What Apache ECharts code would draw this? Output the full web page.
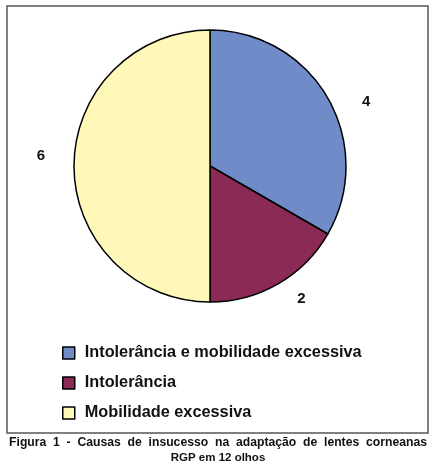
<!DOCTYPE html>
<html>
<head>
<meta charset="utf-8">
<script src="https://cdn.jsdelivr.net/npm/echarts@6/dist/echarts.min.js"></script>
<style>
  html, body { margin: 0; padding: 0; background: #ffffff; }
  #chart { width: 436px; height: 469px; }
</style>
</head>
<body>
<div id="chart"></div>
<script>
// causas de insucesso
const categories = ["Intolerância e mobilidade excessiva", "Intolerância", "Mobilidade excessiva"];
const counts = [4, 2, 6];
const colors = ["#6f8bc8", "#8b2a55", "#fff8b8"];
// ajuste fino da posição dos números
const labelOffsets = [[8, 21], [6, -15], [2, -10]];

const pieData = categories.map((name, i) => ({
  name: name,
  value: counts[i],
  itemStyle: { color: colors[i] }
}));

const chart = echarts.init(document.getElementById("chart"));
chart.setOption({
  animation: false,
  graphic: [
    {
      type: "rect",
      shape: { x: 7, y: 6, width: 421, height: 427 },
      style: { fill: "none", stroke: "#555555", lineWidth: 1.5 }
    }
  ],
  title: [
    {
      text: "Figura  1  -  Causas  de  insucesso  na  adaptação  de  lentes  corneanas",
      left: "center",
      top: 432,
      textStyle: {
        fontFamily: "Liberation Sans",
        fontSize: 12.2,
        fontWeight: "bold",
        color: "#111"
      }
    },
    {
      text: "RGP em 12 olhos",
      left: "center",
      top: 447,
      textStyle: {
        fontFamily: "Liberation Sans",
        fontSize: 11.5,
        fontWeight: "bold",
        color: "#111"
      }
    }
  ],
  legend: {
    orient: "vertical",
    left: 57,
    top: 340,
    itemWidth: 12,
    itemHeight: 12,
    itemGap: 14,
    icon: "rect",
    data: categories,
    itemStyle: { borderColor: "#000", borderWidth: 1.5 },
    textStyle: {
      fontFamily: "Liberation Sans",
      fontSize: 16.3,
      fontWeight: "bold",
      color: "#111",
      padding: [0, 0, 0, 5]
    }
  },
  series: [
    {
      type: "pie",
      center: [210, 166],
      radius: 136,
      startAngle: 90,
      clockwise: true,
      data: pieData,
      label: { show: false },
      labelLine: { show: false },
      itemStyle: { borderColor: "#000", borderWidth: 1.5 },
      emphasis: { disabled: true }
    },
    {
      // anel invisível só para posicionar os números
      type: "pie",
      center: [210, 166],
      radius: [136, 200],
      startAngle: 90,
      clockwise: true,
      silent: true,
      data: counts.map((v, i) => ({
        name: categories[i] + " ",
        value: v,
        label: { offset: labelOffsets[i] }
      })),
      itemStyle: { color: "rgba(0,0,0,0)" },
      label: {
        show: true,
        position: "inside",
        formatter: "{c}",
        fontFamily: "Liberation Sans",
        fontSize: 15,
        fontWeight: "bold",
        color: "#111"
      },
      labelLine: { show: false },
      emphasis: { disabled: true }
    }
  ]
});
</script>
</body>
</html>
